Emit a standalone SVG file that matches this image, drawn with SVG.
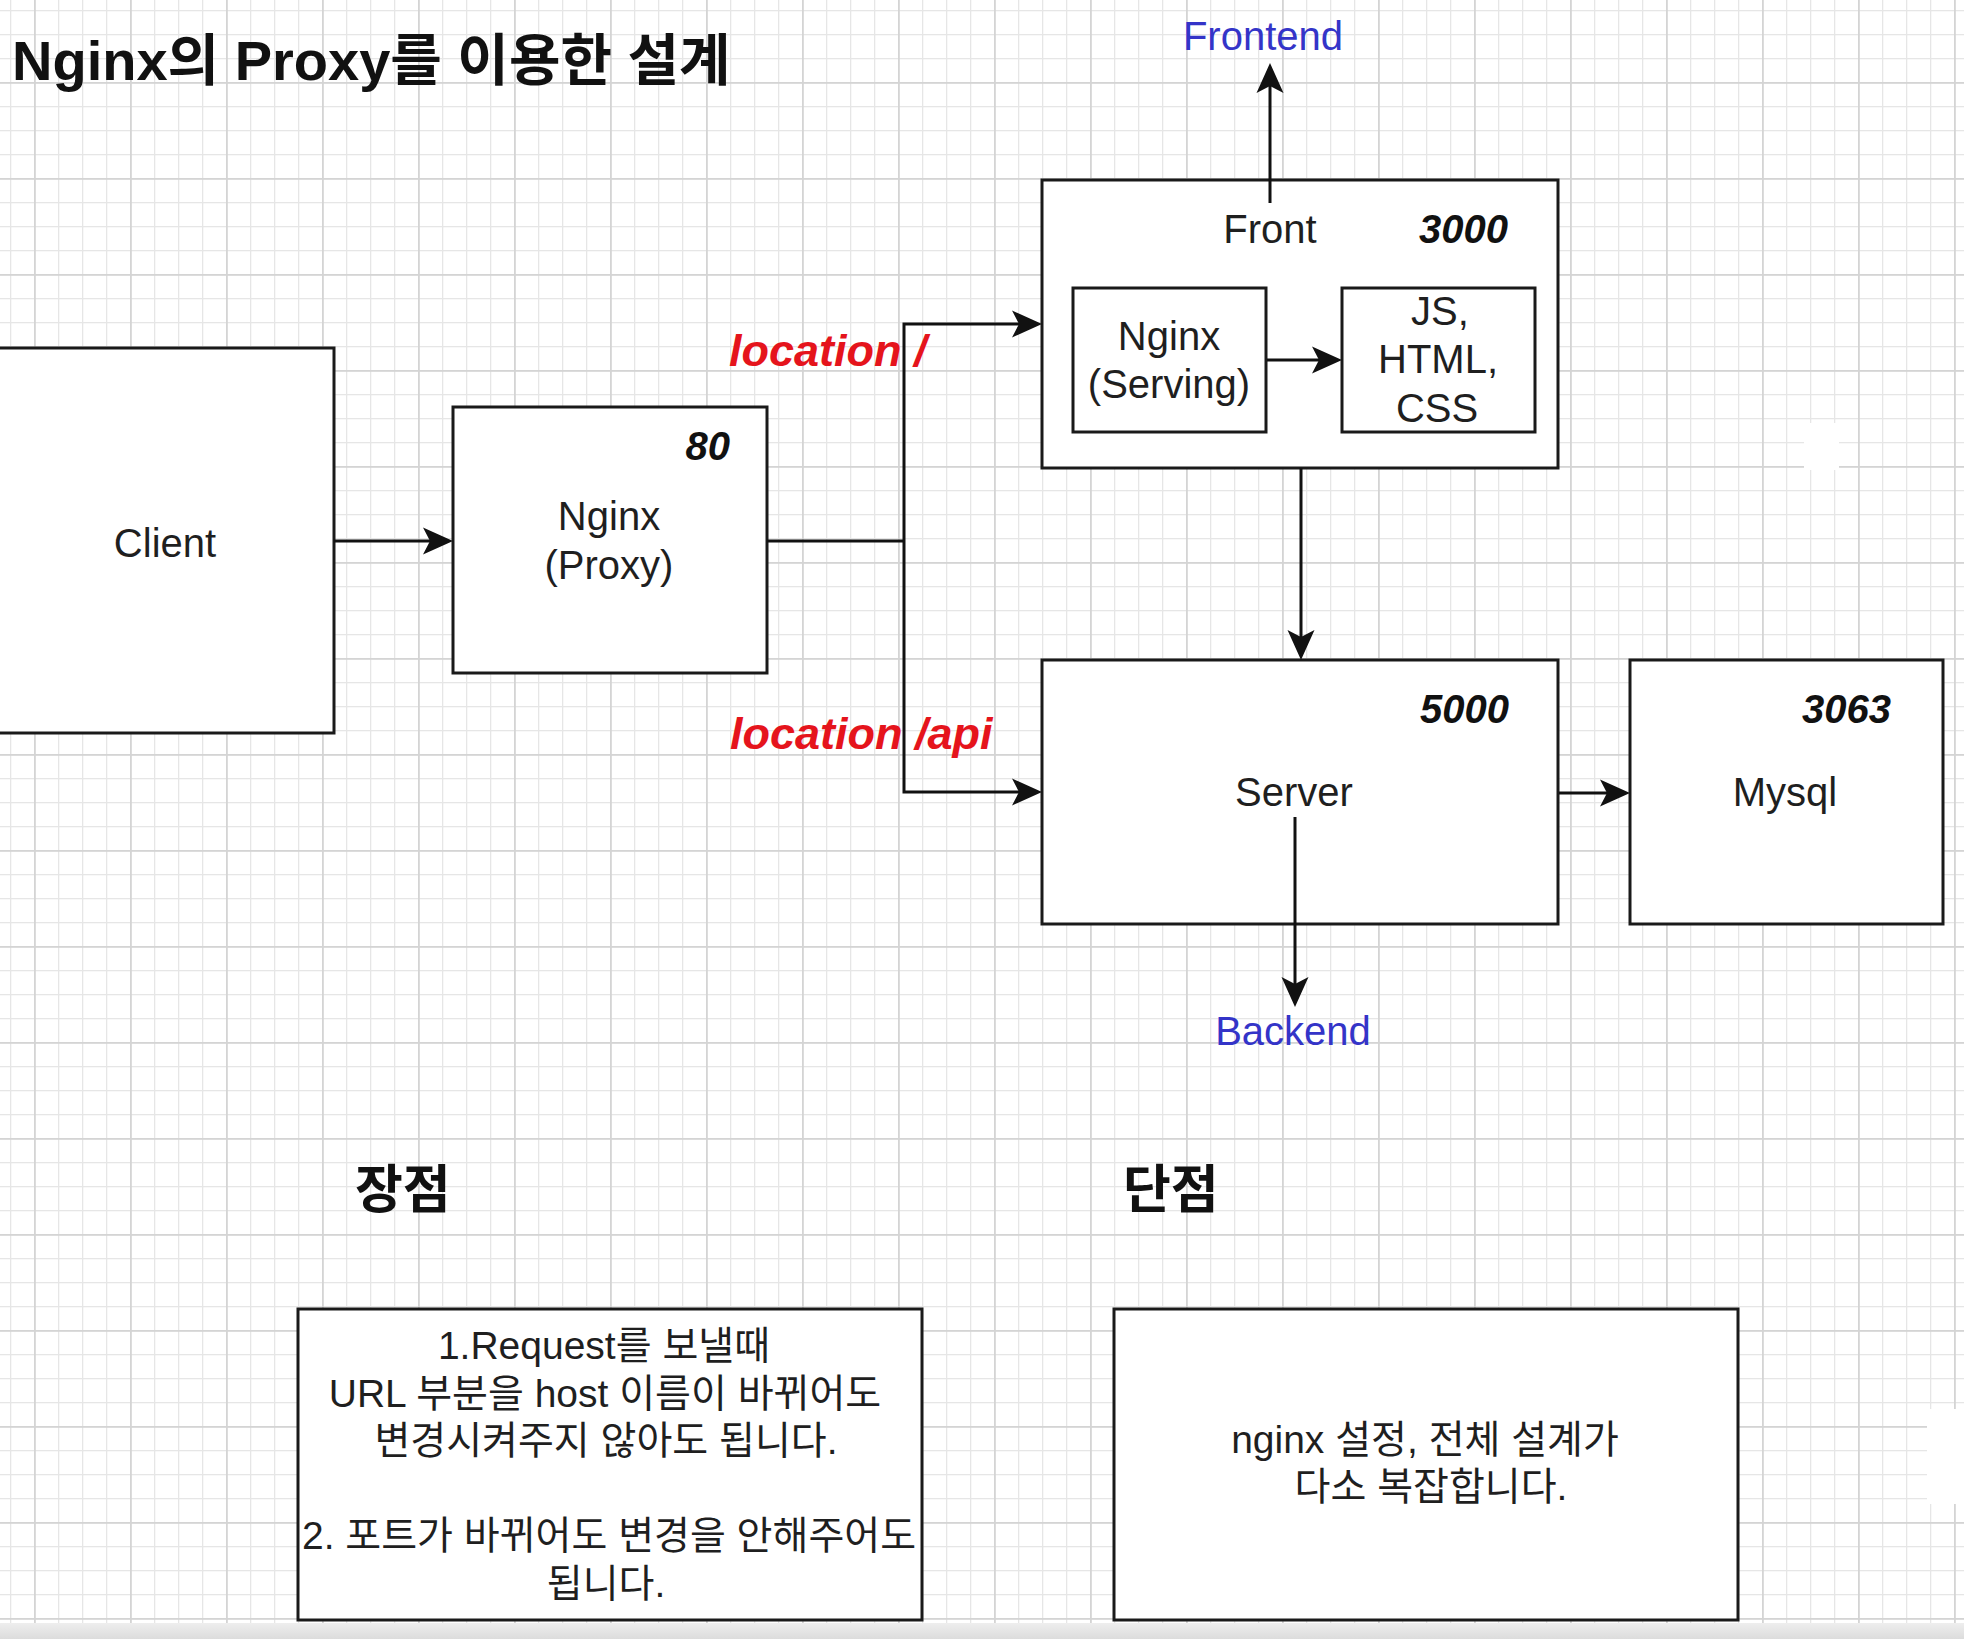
<svg xmlns="http://www.w3.org/2000/svg" width="1964" height="1639" viewBox="0 0 1964 1639">
<style>
.box{fill:#ffffff;stroke:#1a1a1a;stroke-width:3}
.t{font-family:'Liberation Sans','Noto Sans CJK KR',sans-serif;font-size:40px;fill:#1f1f1f;text-anchor:middle}
.k{font-family:'Liberation Sans','Noto Sans CJK KR',sans-serif;font-size:39px;fill:#1f1f1f;text-anchor:middle}
.port{font-family:'Liberation Sans',sans-serif;font-size:40px;font-weight:bold;font-style:italic;fill:#111;text-anchor:end}
.blue{font-family:'Liberation Sans',sans-serif;font-size:40px;fill:#3434c8;text-anchor:middle}
.red{font-family:'Liberation Sans',sans-serif;font-size:45px;font-weight:bold;font-style:italic;fill:#e5141c}
.h{font-family:'Liberation Sans','Noto Sans CJK KR',sans-serif;font-weight:bold;fill:#111}
.c{fill:none;stroke:#111;stroke-width:3}
.ca{fill:none;stroke:#111;stroke-width:3;marker-end:url(#arr)}
</style>
<defs>
<pattern id="grid" patternUnits="userSpaceOnUse" x="34" y="82" width="96" height="96">
<rect x="24" y="0" width="1.3" height="96" fill="#e6e6e6"/>
<rect x="48" y="0" width="1.3" height="96" fill="#e6e6e6"/>
<rect x="72" y="0" width="1.3" height="96" fill="#e6e6e6"/>
<rect x="0" y="24" width="96" height="1.3" fill="#e6e6e6"/>
<rect x="0" y="48" width="96" height="1.3" fill="#e6e6e6"/>
<rect x="0" y="72" width="96" height="1.3" fill="#e6e6e6"/>
<rect x="0" y="0" width="1.8" height="96" fill="#d4d4d4"/>
<rect x="0" y="0" width="96" height="1.8" fill="#d4d4d4"/>
</pattern>
<linearGradient id="band" x1="0" y1="0" x2="0" y2="1">
<stop offset="0" stop-color="#eeeeee"/>
<stop offset="1" stop-color="#dcdcdc"/>
</linearGradient>
<marker id="arr" markerUnits="userSpaceOnUse" viewBox="0 0 30 30" markerWidth="30" markerHeight="30" refX="22" refY="15" orient="auto">
<path d="M0,1.5 L30,15 L0,28.5 L7,15 Z" fill="#111"/>
</marker>
</defs>
<rect x="0" y="0" width="1964" height="1639" fill="#ffffff"/>
<rect x="0" y="0" width="1964" height="1639" fill="url(#grid)"/>
<rect x="1804" y="423" width="35" height="47" fill="#ffffff"/>
<rect x="1927" y="1409" width="37" height="95" fill="#ffffff"/>
<rect x="0" y="1623" width="1964" height="16" fill="url(#band)"/>

<text id="title" class="h" x="12" y="80" font-size="56">Nginx의 Proxy를 이용한 설계</text>

<g id="client">
<rect class="box" x="-2" y="348" width="336" height="385"/>
<text class="t" x="165" y="557">Client</text>
</g>

<g id="nginx-proxy">
<rect class="box" x="453" y="407" width="314" height="266"/>
<text class="port" x="730" y="460">80</text>
<text class="t" x="609" y="530">Nginx</text>
<text class="t" x="609" y="579">(Proxy)</text>
</g>

<g id="front">
<rect class="box" x="1042" y="180" width="516" height="288"/>
<text class="t" x="1270" y="243">Front</text>
<text class="port" x="1508" y="243">3000</text>
</g>

<g id="nginx-serving">
<rect class="box" x="1073" y="288" width="193" height="144"/>
<text class="t" x="1169" y="350">Nginx</text>
<text class="t" x="1169" y="398">(Serving)</text>
</g>

<g id="static-files">
<rect class="box" x="1342" y="288" width="193" height="144"/>
<text class="t" x="1440" y="325">JS,</text>
<text class="t" x="1438" y="373">HTML,</text>
<text class="t" x="1437" y="422">CSS</text>
</g>

<g id="server">
<rect class="box" x="1042" y="660" width="516" height="264"/>
<text class="port" x="1509" y="723">5000</text>
<text class="t" x="1294" y="806">Server</text>
</g>

<g id="mysql">
<rect class="box" x="1630" y="660" width="313" height="264"/>
<text class="port" x="1891" y="723">3063</text>
<text class="t" x="1785" y="806">Mysql</text>
</g>

<g id="frontend-label">
<text class="blue" x="1263" y="50">Frontend</text>
</g>
<g id="backend-label">
<text class="blue" x="1293" y="1045">Backend</text>
</g>

<g id="route-labels">
<text class="red" x="729" y="366">location /</text>
<text class="red" x="730" y="749">location /api</text>
</g>

<g id="pros-title">
<text class="h" x="355" y="1208" font-size="52">장점</text>
</g>
<g id="cons-title">
<text class="h" x="1123" y="1208" font-size="52">단점</text>
</g>

<g id="pros">
<rect class="box" x="298" y="1309" width="624" height="311"/>
<text class="k" x="604" y="1359">1.Request를 보낼때</text>
<text class="k" x="605" y="1407">URL 부분을 host 이름이 바뀌어도</text>
<text class="k" x="606" y="1454">변경시켜주지 않아도 됩니다.</text>
<text class="k" x="609" y="1549">2. 포트가 바뀌어도 변경을 안해주어도</text>
<text class="k" x="606" y="1597">됩니다.</text>
</g>

<g id="cons">
<rect class="box" x="1114" y="1309" width="624" height="311"/>
<text class="k" x="1425" y="1453">nginx 설정, 전체 설계가</text>
<text class="k" x="1431" y="1500">다소 복잡합니다.</text>
</g>

<g id="connectors">
<line class="ca" x1="334" y1="541" x2="445" y2="541"/>
<polyline class="c" points="767,541 904,541"/>
<polyline class="ca" points="904,541 904,324 1034,324"/>
<polyline class="ca" points="904,541 904,792 1034,792"/>
<line class="ca" x1="1270" y1="203" x2="1270" y2="71"/>
<line class="ca" x1="1267" y1="360" x2="1334" y2="360"/>
<line class="ca" x1="1301" y1="468" x2="1301" y2="652"/>
<line class="ca" x1="1295" y1="817" x2="1295" y2="999"/>
<line class="ca" x1="1559" y1="793" x2="1622" y2="793"/>
</g>
</svg>
